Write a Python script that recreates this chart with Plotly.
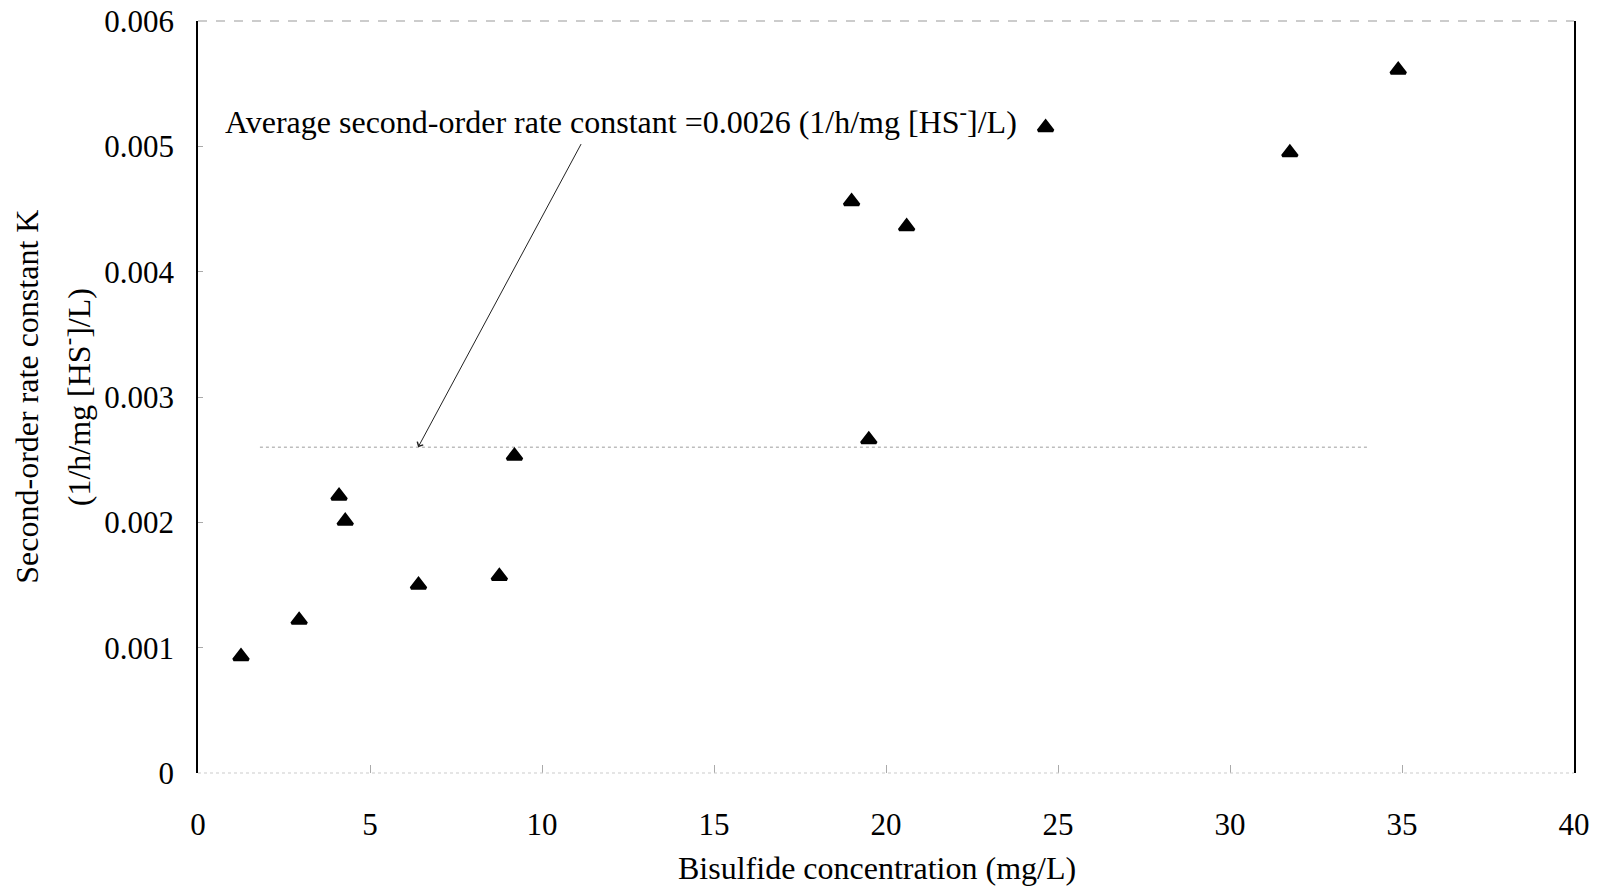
import plotly.graph_objects as go

# Bisulfide concentration (mg/L) and fitted second-order rate constants
bisulfide_mg_l = [1.25, 2.94, 4.10, 4.28, 6.41, 8.76, 9.20, 19.0, 19.5, 20.6, 24.64, 31.74, 34.89]
rate_k = [0.00093, 0.00122, 0.00221, 0.00201, 0.00150, 0.00157, 0.00253,
          0.00456, 0.00266, 0.00436, 0.00515, 0.00495, 0.00561]

avg_k = 0.0026
avg_line_x = [1.8, 34.0]

x_ticks = [0, 5, 10, 15, 20, 25, 30, 35, 40]
y_ticks = [0, 0.001, 0.002, 0.003, 0.004, 0.005, 0.006]
y_tick_text = ["0", "0.001", "0.002", "0.003", "0.004", "0.005", "0.006"]

FONT = "Liberation Serif, Times New Roman, serif"

fig = go.Figure()

# average rate constant reference line
fig.add_trace(go.Scatter(
    x=avg_line_x, y=[avg_k, avg_k], mode="lines",
    line=dict(color="#bdbdbd", width=1.5, dash="dot"),
    hoverinfo="skip", showlegend=False,
))

fig.add_trace(go.Scatter(
    x=bisulfide_mg_l, y=rate_k, mode="markers",
    marker=dict(symbol="triangle-up", size=13, color="black",
                line=dict(color="black", width=3)),
    showlegend=False,
))

# frame: solid sides, faint top and bottom
fig.add_shape(type="line", xref="paper", yref="paper", x0=0, x1=1, y0=1, y1=1,
              line=dict(color="#9a9a9a", width=1.2, dash="dash"))
fig.add_shape(type="line", xref="paper", yref="paper", x0=0, x1=1, y0=0, y1=0,
              line=dict(color="#cccccc", width=1.2, dash="dot"))

fig.add_annotation(
    x=6.4, y=avg_k, ax=11.16, ay=0.00503, xref="x", yref="y", axref="x", ayref="y",
    text="", showarrow=True, arrowhead=4, arrowsize=1.3, arrowwidth=1,
    arrowcolor="#222222",
)
fig.add_annotation(
    x=0.72, y=0.005207, xref="x", yref="y", xanchor="left", yanchor="middle",
    text="Average second-order rate constant =0.0026 (1/h/mg [HS<sup>-</sup>]/L)",
    showarrow=False, font=dict(family=FONT, size=32, color="black"),
)

# two-line y axis title
fig.add_annotation(
    x=-0.1245, y=0.5, xref="paper", yref="paper", xanchor="center", yanchor="middle",
    text="Second-order rate constant K", textangle=-90, showarrow=False,
    font=dict(family=FONT, size=32, color="black"),
)
fig.add_annotation(
    x=-0.0885, y=0.5, xref="paper", yref="paper", xanchor="center", yanchor="middle",
    text="(1/h/mg [HS<sup>-</sup>]/L)", textangle=-90, showarrow=False,
    font=dict(family=FONT, size=32, color="black"),
)

# x axis title
fig.add_annotation(
    x=0.4935, y=-0.1263, xref="paper", yref="paper", xanchor="center", yanchor="middle",
    text="Bisulfide concentration (mg/L)", showarrow=False,
    font=dict(family=FONT, size=32, color="black"),
)

fig.update_layout(
    width=1601, height=887,
    margin=dict(l=198, r=27, t=21, b=114),
    paper_bgcolor="white", plot_bgcolor="white",
    font=dict(family=FONT, size=31, color="black"),
    xaxis=dict(
        range=[0, 40], tickvals=x_ticks, showgrid=False, zeroline=False,
        showline=False, ticks="inside", ticklen=8, tickcolor="#aaaaaa",
        ticklabelstandoff=30, automargin=False,
    ),
    yaxis=dict(
        range=[0, 0.006], tickvals=y_ticks, ticktext=y_tick_text,
        showgrid=False, zeroline=False, showline=True, linecolor="black",
        linewidth=1.5, mirror=True, ticks="inside", ticklen=5, tickcolor="#aaaaaa",
        ticklabelstandoff=16, automargin=False,
    ),
)

fig.write_html("out.html")
